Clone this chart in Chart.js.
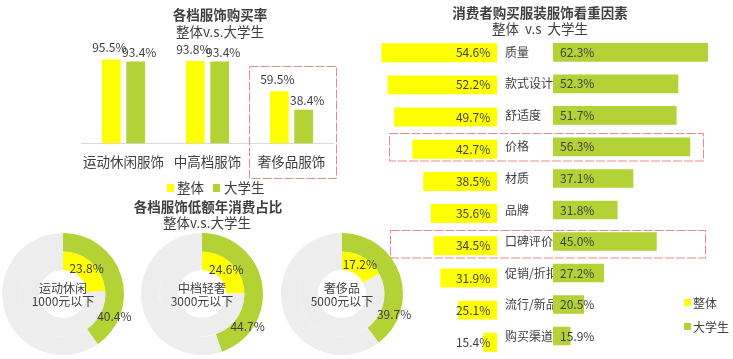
<!DOCTYPE html>
<html><head><meta charset="utf-8">
<script src="https://cdn.jsdelivr.net/npm/chart.js@4"></script>
<style>
html,body{margin:0;padding:0;background:#fff;}
#wrap{position:relative;width:733px;height:359px;overflow:hidden;font-family:"Noto Sans CJK SC","Noto Sans",sans-serif;color:#404040;}
canvas{position:absolute;}
.t{position:absolute;transform:translate(-50%,-50%);white-space:pre;line-height:1;font-size:13.5px;}
.b{font-weight:bold;}
.lt{position:absolute;line-height:1;white-space:nowrap;transform:translateY(-50%);}
.sq{position:absolute;}
svg{position:absolute;left:0;top:0;pointer-events:none;}
</style></head>
<body>
<div id="wrap">
  <canvas id="c1" width="370" height="200" style="left:0;top:0"></canvas>
  <canvas id="d0" width="150" height="130" style="left:-12px;top:229px"></canvas>
  <canvas id="d1" width="150" height="130" style="left:127px;top:229px"></canvas>
  <canvas id="d2" width="150" height="130" style="left:267px;top:229px"></canvas>
  <canvas id="c2" width="140" height="359" style="left:370px;top:0"></canvas>
  <canvas id="c3" width="233" height="359" style="left:500px;top:0"></canvas>

  <div class="t b" style="left:220px;top:15px">各档服饰购买率</div>
  <div class="t" style="left:220px;top:32px">整体v.s.大学生</div>
  <div class="sq" style="left:167px;top:184px;width:7px;height:8px;background:#FFFF00"></div>
  <div class="lt" style="left:177px;top:188px;font-size:13.5px">整体</div>
  <div class="sq" style="left:213px;top:184px;width:7px;height:8px;background:#B2D235"></div>
  <div class="lt" style="left:224px;top:188px;font-size:13.5px">大学生</div>

  <div class="t b" style="left:208px;top:207px">各档服饰低额年消费占比</div>
  <div class="t" style="left:207px;top:223px">整体v.s.大学生</div>

  <div class="t b" style="left:540px;top:13px">消费者购买服装服饰看重因素</div>
  <div class="t" style="left:540px;top:29px">整体  v.s  大学生</div>
  <div class="sq" style="left:684px;top:299px;width:7px;height:7px;background:#FFFF00"></div>
  <div class="lt" style="left:693px;top:303px;font-size:12px">整体</div>
  <div class="sq" style="left:684px;top:323px;width:7px;height:7px;background:#B2D235"></div>
  <div class="lt" style="left:693px;top:327px;font-size:12px">大学生</div>

  <svg width="733" height="359">
    <g fill="none" stroke="#E58A8A" stroke-width="1" stroke-dasharray="9,2">
      <rect x="249.5" y="66.5" width="87" height="112"/>
      <rect x="389.5" y="133.5" width="314" height="27.5"/>
      <rect x="390.5" y="230.5" width="315" height="27.5"/>
    </g>
  </svg>
</div>
<script>
// ---------- data ----------
const buyCategories = ['运动休闲服饰', '中高档服饰', '奢侈品服饰'];
const buyOverall = [95.5, 93.8, 59.5];
const buyStudent = [93.4, 93.4, 38.4];

const donutNames = [['运动休闲', '1000元以下'], ['中档轻奢', '3000元以下'], ['奢侈品', '5000元以下']];
const donutOverall = [23.8, 24.6, 17.2];
const donutStudent = [40.4, 44.7, 39.7];

const factorCategories = ['质量', '款式设计', '舒适度', '价格', '材质', '品牌', '口碑评价', '促销/折扣', '流行/新品', '购买渠道'];
const factorOverall = [54.6, 52.2, 49.7, 42.7, 38.5, 35.6, 34.5, 31.9, 25.1, 15.4];
const factorStudent = [62.3, 52.3, 51.7, 56.3, 37.1, 31.8, 45.0, 27.2, 20.5, 15.9];

// ---------- style ----------
const YELLOW = '#FFFF00';
const GREEN = '#B2D235';
const GRAY = '#EDEDED';
const TEXT = '#404040';
const FONT = '"Noto Sans CJK SC", "Noto Sans", sans-serif';
Chart.defaults.font.family = FONT;
Chart.defaults.color = TEXT;
const pct = v => v.toFixed(1) + '%';

// ---------- top-left grouped bars ----------
const barLabels = {
  id: 'barLabels',
  afterDatasetsDraw(chart) {
    const ctx = chart.ctx;
    ctx.save();
    ctx.font = '12px ' + FONT;
    ctx.fillStyle = TEXT;
    ctx.textAlign = 'center';
    ctx.textBaseline = 'middle';
    chart.data.datasets.forEach((ds, di) => {
      chart.getDatasetMeta(di).data.forEach((bar, i) => {
        const dx = di === 0 ? -2 : 3.5;
        const dy = di === 0 ? -12 : -9;
        ctx.fillText(pct(ds.data[i]), bar.x + dx, bar.y + dy);
      });
    });
    ctx.restore();
  }
};
new Chart(document.getElementById('c1'), {
  type: 'bar',
  data: {
    labels: buyCategories,
    datasets: [
      { label: '整体', data: buyOverall, backgroundColor: YELLOW, categoryPercentage: 0.58, barPercentage: 0.77 },
      { label: '大学生', data: buyStudent, backgroundColor: GREEN, categoryPercentage: 0.58, barPercentage: 0.77 }
    ]
  },
  options: {
    responsive: false, animation: false, devicePixelRatio: 1, events: [],
    layout: { padding: { left: 81.5, right: 36.5, top: 55.6, bottom: 19.3 } },
    scales: {
      x: {
        grid: { display: false, drawTicks: false },
        border: { display: true, color: '#D9D9D9', width: 1 },
        ticks: { padding: 10.5, font: { size: 13.5 }, color: TEXT, maxRotation: 0, autoSkip: false }
      },
      y: { display: false, min: 0, max: 100 }
    },
    plugins: { legend: { display: false }, tooltip: { enabled: false } }
  },
  plugins: [barLabels]
});

// ---------- doughnuts ----------
const donutLabels = {
  id: 'donutLabels',
  afterDatasetsDraw(chart) {
    const ctx = chart.ctx;
    ctx.save();
    ctx.font = '12px ' + FONT;
    ctx.fillStyle = TEXT;
    ctx.textAlign = 'center';
    ctx.textBaseline = 'middle';
    // outer ring (students)
    const o = chart.getDatasetMeta(0).data[0];
    const oa = o.startAngle + 0.78 * (o.endAngle - o.startAngle);
    const orad = o.outerRadius - 5;
    ctx.fillText(pct(chart.data.datasets[0].data[0]), o.x + orad * Math.cos(oa), o.y + orad * Math.sin(oa));
    // inner ring (overall)
    const n = chart.getDatasetMeta(1).data[0];
    const na = (n.startAngle + n.endAngle) / 2;
    const nrad = (n.innerRadius + n.outerRadius) / 2 + 1.5;
    ctx.fillText(pct(chart.data.datasets[1].data[0]), n.x + nrad * Math.cos(na), n.y + nrad * Math.sin(na));
    // center name
    const names = chart.options.plugins.donutLabels.names;
    ctx.fillText(names[0], o.x, o.y - 6);
    ctx.fillText(names[1], o.x, o.y + 7);
    ctx.restore();
  }
};
['d0', 'd1', 'd2'].forEach((id, k) => {
  new Chart(document.getElementById(id), {
    type: 'doughnut',
    data: {
      labels: ['a', 'b'],
      datasets: [
        { label: '大学生', data: [donutStudent[k], 100 - donutStudent[k]], backgroundColor: [GREEN, GRAY], borderWidth: 0 },
        { label: '整体', data: [donutOverall[k], 100 - donutOverall[k]], backgroundColor: [YELLOW, GRAY], borderWidth: 0 }
      ]
    },
    options: {
      responsive: false, animation: false, devicePixelRatio: 1, events: [],
      cutout: '39.3%',
      layout: { padding: { left: 14, right: 14, top: 4, bottom: 4 } },
      plugins: { legend: { display: false }, tooltip: { enabled: false }, donutLabels: { names: donutNames[k] } }
    },
    plugins: [donutLabels]
  });
});

// ---------- right: butterfly bars ----------
const hLabels = {
  id: 'hLabels',
  afterDatasetsDraw(chart) {
    const ctx = chart.ctx;
    const side = chart.options.plugins.hLabels.side;
    ctx.save();
    ctx.font = '12px ' + FONT;
    ctx.fillStyle = TEXT;
    ctx.textBaseline = 'middle';
    const ds = chart.data.datasets[0];
    chart.getDatasetMeta(0).data.forEach((bar, i) => {
      if (side === 'left') {
        ctx.textAlign = 'right';
        ctx.fillText(pct(ds.data[i]), bar.base - 7, bar.y);
      } else {
        ctx.textAlign = 'left';
        ctx.fillText(pct(ds.data[i]), bar.base + 7, bar.y);
      }
    });
    ctx.restore();
  }
};
new Chart(document.getElementById('c2'), {
  type: 'bar',
  data: {
    labels: factorCategories,
    datasets: [{ label: '整体', data: factorOverall, backgroundColor: YELLOW, base: 10, categoryPercentage: 1, barPercentage: 0.59 }]
  },
  options: {
    indexAxis: 'y', responsive: false, animation: false, devicePixelRatio: 1, events: [],
    layout: { padding: { left: 10.3, right: 12.7, top: 36.6, bottom: 0.6 } },
    scales: {
      x: { display: false, reverse: true, min: 10, max: 55 },
      y: { display: false }
    },
    plugins: { legend: { display: false }, tooltip: { enabled: false }, hLabels: { side: 'left' } }
  },
  plugins: [hLabels]
});
new Chart(document.getElementById('c3'), {
  type: 'bar',
  data: {
    labels: factorCategories,
    datasets: [{ label: '大学生', data: factorStudent, backgroundColor: GREEN, base: 10, categoryPercentage: 1, barPercentage: 0.59 }]
  },
  options: {
    indexAxis: 'y', responsive: false, animation: false, devicePixelRatio: 1, events: [],
    layout: { padding: { left: 5, right: 17, top: 36.6, bottom: 0.6 } },
    scales: {
      x: { display: false, min: 10, max: 65 },
      y: {
        grid: { display: false, drawTicks: false },
        border: { display: false },
        ticks: { crossAlign: 'far', padding: 0, font: { size: 12 }, color: TEXT, autoSkip: false },
        afterFit(s) { s.width = 48; }
      }
    },
    plugins: { legend: { display: false }, tooltip: { enabled: false }, hLabels: { side: 'right' } }
  },
  plugins: [hLabels]
});
</script>
</body></html>
